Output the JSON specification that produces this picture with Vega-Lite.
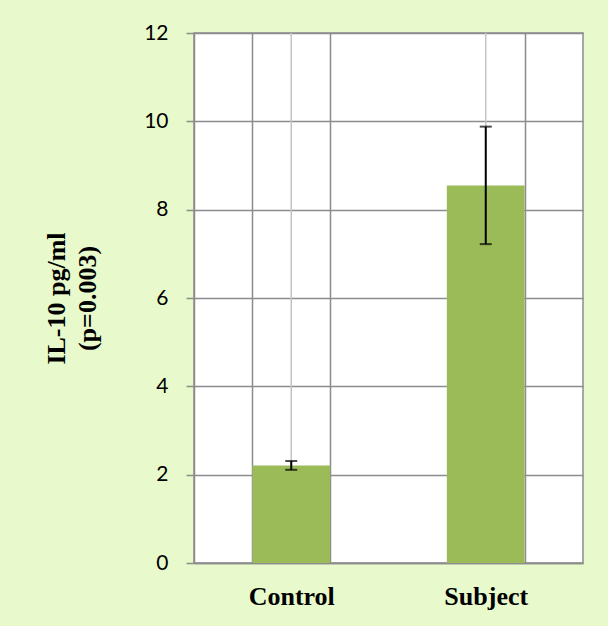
{
  "$schema": "https://vega.github.io/schema/vega-lite/v6.json",
  "width": 389,
  "height": 530,
  "autosize": {"type": "none"},
  "padding": {"left": 194, "top": 33, "right": 25, "bottom": 63},
  "background": "#E8FACC",
  "config": {"view": {"fill": "white", "stroke": "#8C8C8C", "strokeWidth": 1.5}},
  "data": {"values": [
    {"group": "Control", "mean": 2.21, "err": 0.1},
    {"group": "Subject", "mean": 8.55, "err": 1.33}
  ]},
  "encoding": {
    "x": {
      "field": "group", "type": "nominal", "sort": null,
      "scale": {"paddingInner": 0.6, "paddingOuter": 0.3},
      "axis": {
        "title": null, "labelAngle": 0, "labelFont": "Liberation Serif", "labelFontWeight": "bold",
        "labelFontSize": 26, "labelColor": "black", "labelBaseline": "alphabetic", "labelPadding": 41,
        "ticks": false, "tickSize": 0, "domainColor": "#8C8C8C", "domainWidth": 1.5,
        "grid": true, "tickBand": "extent", "gridColor": "#8C8C8C", "gridWidth": 1.5
      }
    }
  },
  "resolve": {"axis": {"y": "independent"}},
  "layer": [
    {"mark": {"type": "rule", "color": "#C4C4C4", "strokeWidth": 1.5}, "encoding": {}},
    {
      "mark": {"type": "bar", "color": "#9BBB59"},
      "encoding": {
        "y": {
          "field": "mean", "type": "quantitative",
          "scale": {"domain": [0, 12]},
          "axis": {
            "values": [0, 2, 4, 6, 8, 10, 12],
            "labelFont": "Lato", "labelFontSize": 21, "labelColor": "black",
            "tickColor": "#8C8C8C", "tickSize": 8, "tickWidth": 1.5, "labelPadding": 18,
            "domainColor": "#8C8C8C", "domainWidth": 1.5,
            "grid": true, "gridColor": "#8C8C8C", "gridWidth": 1.5,
            "title": ["IL-10 pg/ml", "(p=0.003)"],
            "titleFont": "Liberation Serif", "titleFontSize": 26, "titleFontWeight": "bold", "titleColor": "black",
            "titleAngle": -90, "titleX": -130, "titleY": 265, "titleAlign": "center",
            "titleBaseline": "alphabetic", "titleLineHeight": 31
          }
        }
      }
    },
    {
      "mark": {"type": "errorbar", "color": "black", "thickness": 2, "ticks": {"size": 12, "thickness": 2, "color": "black"}},
      "encoding": {
        "y": {"field": "mean", "type": "quantitative", "scale": {"domain": [0, 12]}, "axis": null},
        "yError": {"field": "err"}
      }
    }
  ]
}
